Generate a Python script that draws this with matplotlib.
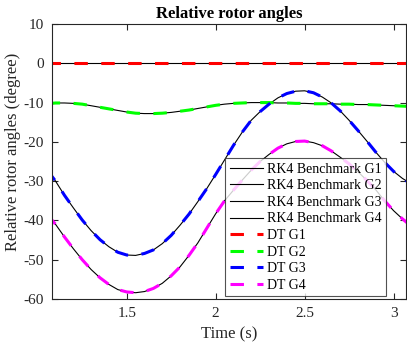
import numpy as np
import matplotlib.pyplot as plt

plt.rcParams['font.family'] = ['Liberation Serif', 'DejaVu Serif']
plt.rcParams['font.size'] = 11
plt.rcParams['axes.unicode_minus'] = False

# time samples (s)
t = [1.05, 1.10, 1.15, 1.20, 1.25, 1.30, 1.35, 1.40, 1.45, 1.50,
     1.55, 1.60, 1.65, 1.70, 1.75, 1.80, 1.85, 1.90, 1.95, 2.00,
     2.05, 2.10, 2.15, 2.20, 2.25, 2.30, 2.35, 2.40, 2.45, 2.50,
     2.55, 2.60, 2.65, 2.70, 2.75, 2.80, 2.85, 2.90, 2.95, 3.00,
     3.05, 3.10]

g1 = [0.0] * len(t)
g2 = [-10.3, -10.1, -10.1, -10.2, -10.4, -10.8, -11.2, -11.6, -12.0, -12.4,
      -12.7, -12.8, -12.8, -12.7, -12.5, -12.2, -11.9, -11.5, -11.1, -10.7,
      -10.4, -10.2, -10.1, -10.0, -10.0, -10.0, -10.1, -10.1, -10.2, -10.2,
      -10.3, -10.3, -10.3, -10.4, -10.4, -10.5, -10.5, -10.6, -10.7, -10.8,
      -10.9, -11.0]
g3 = [-27.0, -30.0, -33.6, -36.8, -39.9, -42.6, -44.9, -46.7, -48.1, -48.8,
      -48.9, -48.4, -47.5, -45.9, -43.8, -41.2, -38.4, -35.2, -31.9, -28.3,
      -24.6, -20.9, -17.5, -14.5, -12.3, -10.4, -8.8, -7.7, -7.1, -7.0,
      -7.5, -8.6, -10.1, -12.1, -14.5, -17.1, -19.8, -22.6, -25.2, -27.5,
      -29.3, -30.7]
g4 = [-38.3, -41.0, -44.2, -47.2, -50.0, -52.5, -54.6, -56.3, -57.6, -58.2,
      -58.4, -58.1, -57.3, -56.0, -54.1, -51.8, -48.9, -45.7, -42.0, -38.3,
      -35.0, -32.3, -29.7, -27.2, -25.0, -23.2, -21.6, -20.5, -19.9, -19.8,
      -20.2, -21.0, -22.3, -23.9, -25.6, -27.6, -29.8, -32.2, -35.0, -37.5,
      -39.6, -41.5]

series = [g1, g2, g3, g4]
names = ['G1', 'G2', 'G3', 'G4']
dt_colors = ['#ff0000', '#00ff00', '#0000ff', '#ff00ff']

fig = plt.figure(figsize=(4.07, 3.47), dpi=100)
ax = fig.add_axes([0.1278, 0.1383, 0.8697, 0.7925])

# benchmark curves first, DT dashes on top
for s, n in zip(series, names):
    ax.plot(t, s, color='k', lw=0.8, label='RK4 Benchmark ' + n)
for s, n, c in zip(series, names, dt_colors):
    ax.plot(t, s, color=c, lw=2.2, linestyle=(0, (4.4, 4.4)), label='DT ' + n)

ax.set_xlim(1.08, 3.07)
ax.set_ylim(-60, 10)
ax.set_xticks([1.5, 2, 2.5, 3])
ax.set_xticklabels(['1.5', '2', '2.5', '3'])
ax.set_yticks(np.arange(-60, 11, 10))
ax.tick_params(direction='in', top=True, right=True, length=4,
               colors='#262626', labelsize=11, pad=6)
for sp in ax.spines.values():
    sp.set_color('#262626')
    sp.set_linewidth(0.8)

ax.set_xlabel('Time (s)', fontsize=12, color='#262626', labelpad=4)
ax.set_ylabel('Relative rotor angles (degree)', fontsize=12, color='#262626')
ax.yaxis.set_label_coords(-0.087, 0.535)
ax.set_title('Relative rotor angles', fontsize=12, fontweight='bold', pad=4)

leg = ax.legend(loc='lower right', bbox_to_anchor=(0.943, 0.011), fontsize=10,
                handlelength=2.4, handletextpad=0.3, labelspacing=0.26,
                borderpad=0.3, borderaxespad=0, frameon=True, fancybox=False)
leg.get_frame().set_edgecolor('#262626')
leg.get_frame().set_linewidth(0.8)

plt.savefig('out.png', dpi=100)
